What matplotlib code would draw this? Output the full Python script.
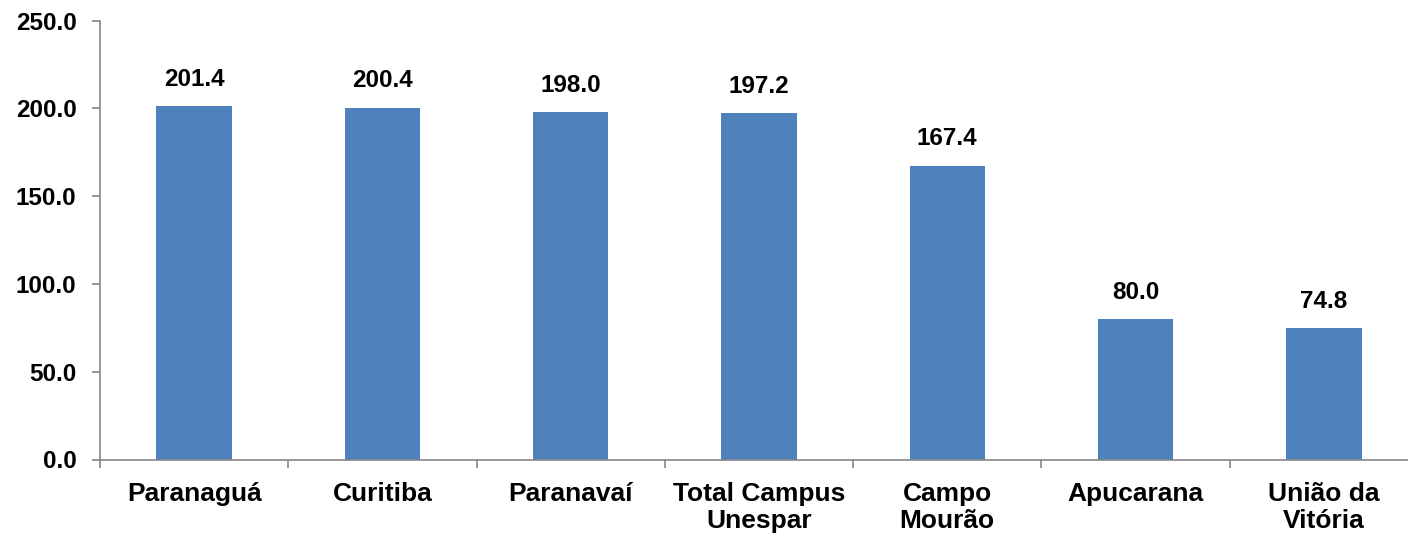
import numpy as np
import matplotlib.pyplot as plt

plt.rcParams['font.family'] = ['Liberation Sans', 'DejaVu Sans']
plt.rcParams['font.weight'] = 'bold'

# Data
campi = ['Paranaguá', 'Curitiba', 'Paranavaí', 'Total Campus\nUnespar',
         'Campo\nMourão', 'Apucarana', 'União da\nVitória']
valores = [201.4, 200.4, 198.0, 197.2, 167.4, 80.0, 74.8]
yticks = [0, 50, 100, 150, 200, 250]

fig = plt.figure(figsize=(14.08, 5.37), dpi=100)
W, H = 1408, 537
# axes extends past the right edge, as in the reference
ax = fig.add_axes([100 / W, (H - 459.5) / H, 1318 / W, 439 / H])

x = np.arange(len(campi))
bars = ax.bar(x, valores, width=0.4, color='#4F81BD', zorder=2)

for xi, v in zip(x, valores):
    ax.annotate(f'{v:.1f}', (xi, v), xytext=(0, 11), textcoords='offset points',
                ha='center', va='bottom', fontsize=17.5, fontweight='bold')

ax.set_xlim(-0.5, len(campi) - 0.5)
ax.set_ylim(0, 250)
ax.set_yticks(yticks)
ax.set_yticklabels([f'{t:.1f}' for t in yticks], fontsize=17.5, fontweight='bold')
ax.set_xticks(x)
ax.set_xticklabels(campi, fontsize=19, fontweight='bold', linespacing=1.15)
ax.set_xticks(np.arange(-0.5, len(campi), 1.0), minor=True)

gray = '#868686'
ax.tick_params(axis='x', which='major', length=0, pad=16)
ax.tick_params(axis='x', which='minor', length=6, color=gray, width=1.2)
ax.tick_params(axis='y', length=6, color=gray, width=1.2, pad=11)

for s in ['top', 'right']:
    ax.spines[s].set_visible(False)
for s in ['left', 'bottom']:
    ax.spines[s].set_color(gray)
    ax.spines[s].set_linewidth(1.2)

fig.savefig('out.png', dpi=100)
